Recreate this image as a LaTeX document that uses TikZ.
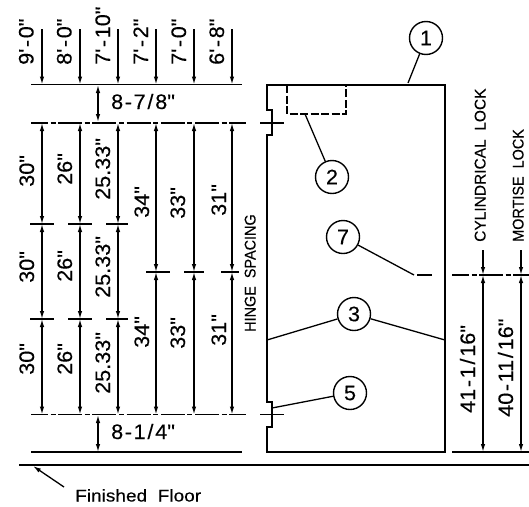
\documentclass[tikz,border=0pt]{standalone}
\usepackage{fontspec}
\usetikzlibrary{arrows.meta}
\newfontfamily\cadf[FakeStretch=1.03,FakeBold=0.25]{Liberation Sans}
\newfontfamily\cads[FakeStretch=0.93,FakeBold=0.25]{Liberation Sans}
\newfontfamily\cadc[FakeStretch=1.0,FakeBold=0.25]{Liberation Sans}
\newfontfamily\cadn[FakeStretch=1.12,FakeBold=0.2]{Liberation Sans}
\newcommand{\hy}{\kern1.6pt-\kern1.6pt}
\newcommand{\sla}{\kern1.8pt/\kern1.8pt}
\tikzset{
  x=1pt,y=-1pt,
  cad/.style={line width=1.3pt,black},
  thick line/.style={line width=1.5pt,black},
  dim/.style={line width=1.3pt,{Latex[length=8pt,width=4.5pt]}-{Latex[length=8pt,width=4.5pt]}},
  dimin/.style={line width=1.3pt,-{Latex[length=8pt,width=4.5pt]}},
  centerl/.style={line width=1.4pt,dash pattern=on 24pt off 2.5pt on 5pt off 2.7pt,dash phase=7pt},
  vt/.style={rotate=90,anchor=base west,inner sep=0pt,font=\cadf\fontsize{21}{21}\selectfont},
  vs/.style={rotate=90,anchor=base west,inner sep=0pt,font=\cads\fontsize{15.5}{15.5}\selectfont},
  vc/.style={rotate=90,anchor=base west,inner sep=0pt,font=\cadc\fontsize{15.5}{15.5}\selectfont},
  ht/.style={anchor=base west,inner sep=0pt,font=\cadf\fontsize{21}{21}\selectfont},
  fl/.style={anchor=base west,inner sep=0pt,font=\cadn\fontsize{17}{17}\selectfont},
  bub/.style={circle,draw,line width=1.4pt,minimum size=33pt,inner sep=0pt,font=\cadf\fontsize{21}{21}\selectfont},
}
\begin{document}
\begin{tikzpicture}
\useasboundingbox (0,0) rectangle (529,506);
% reference lines
\coordinate (topA) at (31,84.5); \coordinate (topB) at (242,84.5);
\coordinate (cA) at (31,123); \coordinate (cB) at (246,123);
\coordinate (dA) at (31,414.5); \coordinate (dB) at (246,414.5);
\coordinate (bA) at (31,452); \coordinate (bB) at (242,452);
\coordinate (fA) at (19,465); \coordinate (fB) at (529,465);
\draw[thick line] (topA) -- (topB);
\draw[centerl] (cA) -- (cB);
\draw[centerl] (dA) -- (dB);
\draw[thick line] (bA) -- (bB);
\draw[thick line] (fA) -- (fB);
% top and height columns
\foreach \n/\x in {a/42,b/80,c/118,d/156,e/194,f/232}{
  \coordinate (s\n) at (\x,29);
  \coordinate (t\n) at (\x,84.5);
  \coordinate (h\n) at (\x,123);
  \coordinate (l\n) at (\x,414.5);
  \draw[dimin] (s\n) -- (t\n);
}
\foreach \n/\x/\xa/\xb in {a/42/30/54,b/80/68/92,c/118/106/128}{
  \coordinate (p\n) at (\x,224); \coordinate (q\n) at (\x,319);
  \coordinate (pl\n) at (\xa,224); \coordinate (pr\n) at (\xb,224);
  \coordinate (ql\n) at (\xa,319); \coordinate (qr\n) at (\xb,319);
  \draw[dim] (h\n) -- (p\n);
  \draw[dim] (p\n) -- (q\n);
  \draw[dim] (q\n) -- (l\n);
  \draw[cad] (pl\n) -- (pr\n);
  \draw[cad] (ql\n) -- (qr\n);
}
\foreach \n/\x/\xa/\xb in {d/156/146/170,e/194/184/204,f/232/221/239}{
  \coordinate (p\n) at (\x,272);
  \coordinate (pl\n) at (\xa,272); \coordinate (pr\n) at (\xb,272);
  \draw[dim] (h\n) -- (p\n);
  \draw[dim] (p\n) -- (l\n);
  \draw[cad] (pl\n) -- (pr\n);
}
% gap dimensions
\coordinate (g1a) at (98,85); \coordinate (g1b) at (98,122);
\coordinate (g2a) at (98,415); \coordinate (g2b) at (98,452);
\draw[dim] (g1a) -- (g1b);
\draw[dim] (g2a) -- (g2b);
\node[ht] (n887) at (111,109) {8\hy 7\sla 8"};
\node[ht] (n814) at (111,439) {8\hy 1\sla 4"};
% heights
\node[vt] (h1) at (33.5,65) {9'\hy 0"};
\node[vt] (h2) at (71.5,65) {8'\hy 0"};
\node[vt] (h3) at (110,65) {7'\hy 10"};
\node[vt] (h4) at (148,65) {7'\hy 2"};
\node[vt] (h5) at (186,65) {7'\hy 0"};
\node[vt] (h6) at (224,65) {6'\hy 8"};
% spacing labels
\node[vt] (v01) at (34,187) {30"};
\node[vt] (v02) at (34,283) {30"};
\node[vt] (v03) at (34,375) {30"};
\node[vt] (v04) at (72,185) {26"};
\node[vt] (v05) at (72,282) {26"};
\node[vt] (v06) at (72,375) {26"};
\node[vt] (v07) at (110,200) {25.33"};
\node[vt] (v08) at (110,298) {25.33"};
\node[vt] (v09) at (110,394) {25.33"};
\node[vt] (v10) at (149,218) {34"};
\node[vt] (v11) at (149,348) {34"};
\node[vt] (v12) at (185,219) {33"};
\node[vt] (v13) at (185,349) {33"};
\node[vt] (v14) at (226,216) {31"};
\node[vt] (v15) at (226,346) {31"};
\node[vs] (hs) at (255.5,332) {HINGE\ \ SPACING};
% door
\draw[thick line] (267,85) -- (445,85) -- (445,452) -- (267,452) -- (267,427) -- (272,427) -- (272,402) -- (267,402) -- (267,135) -- (272,135) -- (272,110) -- (267,110) -- cycle;
\draw[cad,dash pattern=on 8pt off 2.5pt] (287,85) -- (287,114) -- (346,114) -- (346,85);
% hinge crosses
\coordinate (c1l) at (260,123); \coordinate (c1r) at (284,123);
\coordinate (c2l) at (260,414.5); \coordinate (c2r) at (284,414.5);
\draw[cad] (c1l) -- (c1r);
\draw[cad] (c2l) -- (c2r);
% bubbles
\node[bub] (b1) at (426,38) {1};
\node[bub] (b2) at (332,177) {2};
\node[bub] (b7) at (343,237) {7};
\node[bub] (b3) at (354,314) {3};
\node[bub] (b5) at (350,393) {5};
\coordinate (e1) at (408,83);
\coordinate (e2) at (305,114);
\coordinate (e7) at (414,275);
\coordinate (e3a) at (267,340);
\coordinate (e3b) at (445,340);
\coordinate (e5) at (272,408);
\draw[cad] (b1) -- (e1);
\draw[cad] (b2) -- (e2);
\draw[cad] (b7) -- (e7);
\draw[cad] (b3) -- (e3a);
\draw[cad] (b3) -- (e3b);
\draw[cad] (b5) -- (e5);
% lock line
\coordinate (k0a) at (417,275); \coordinate (k0b) at (432,275);
\draw[cad] (k0a) -- (k0b);
\coordinate (kA) at (452,275); \coordinate (kB) at (529,275);
\draw[centerl] (kA) -- (kB);
\coordinate (rA) at (452,452); \coordinate (rB) at (529,452);
\draw[thick line] (rA) -- (rB);
\foreach \n/\x in {u/483,v/521}{
  \coordinate (\n0) at (\x,250);
  \coordinate (\n1) at (\x,275);
  \coordinate (\n2) at (\x,452);
  \draw[dimin] (\n0) -- (\n1);
  \draw[dim] (\n1) -- (\n2);
}
\node[vt] (lk1) at (475,413) {41\hy 1\sla 16"};
\node[vt] (lk2) at (513,417) {40\hy 11\sla 16"};
\node[vc] (lc) at (485.5,242) {CYLINDRICAL\ \ LOCK};
\node[vs] (lm) at (523.5,242) {MORTISE\ \ LOCK};
% floor note
\coordinate (ff1) at (33,466); \coordinate (ff2) at (64,487);
\draw[cad,{Latex[length=8pt,width=4.5pt]}-] (ff1) -- (ff2);
\node[fl] (ft) at (75,501.5) {Finished\ \ Floor};
\end{tikzpicture}
\end{document}
